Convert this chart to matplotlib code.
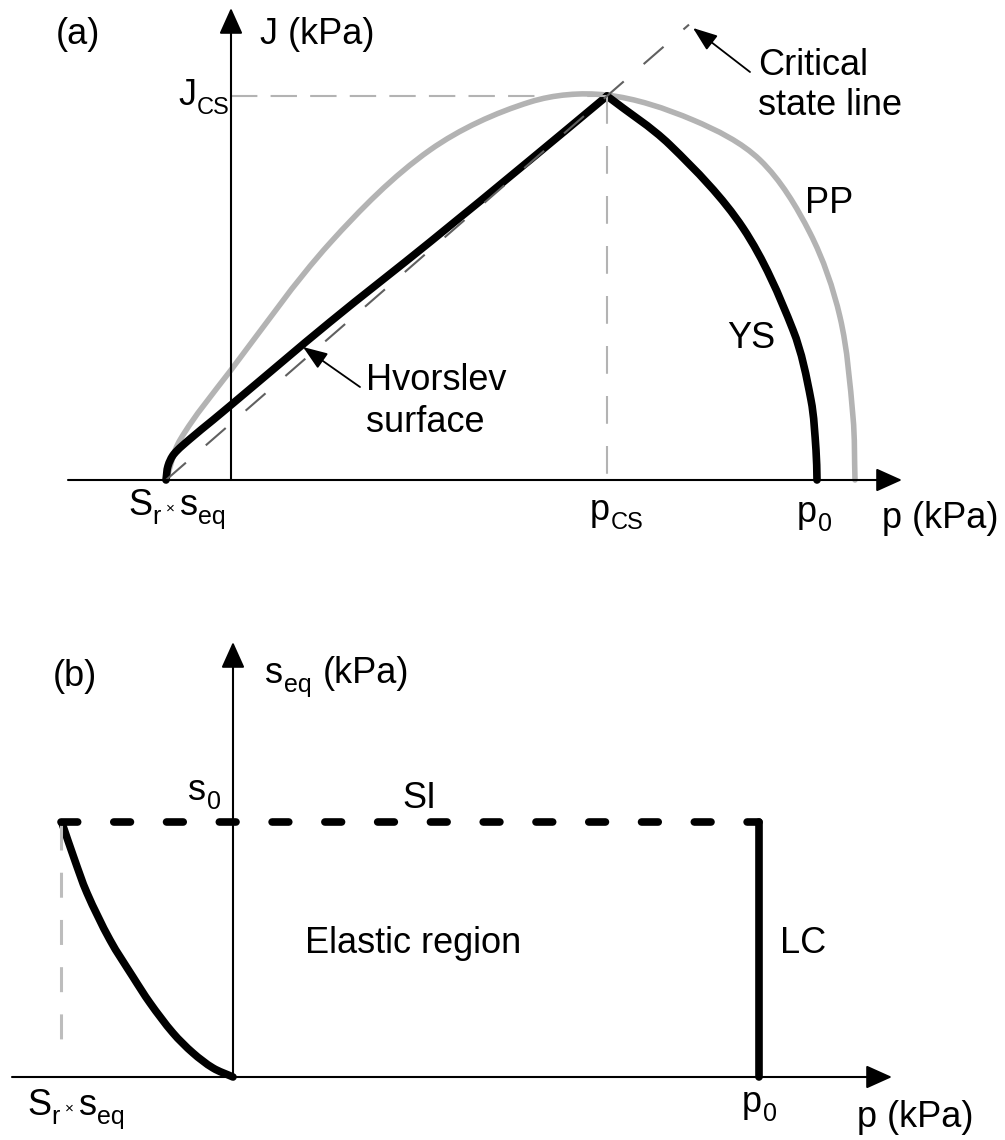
import matplotlib
matplotlib.use("Agg")
import matplotlib.pyplot as plt
import numpy as np
from matplotlib.path import Path
from matplotlib.patches import PathPatch

plt.rcParams['font.family'] = ['Liberation Sans', 'DejaVu Sans']
plt.rcParams['lines.scale_dashes'] = False

# ---- panel (a): p - J plane ----
sr_seq_a = -65
p_cs, J_cs = 376, 384
p0_a = 586
p_axis_a = (-163, 671)
J_axis_top = 472
csl_end_p = 458

hv_p = [-65, -63, -57, -41, -18, 0, 99, 199, 299, 376]
hv_J = [0, 14, 26, 41, 60, 75, 158, 238, 320, 384]

ys_p = [376, 439, 512, 562, 580, 585, 586]
ys_J = [384, 335, 252, 150, 80, 30, 0]

pp_p = [-65, -51, 0, 99, 199, 299, 375, 462, 529, 579, 609, 622, 624]
pp_J = [0, 40, 110, 237, 330, 378, 385, 360, 320, 247, 163, 63, 0]

# ---- panel (b): p - s_eq plane ----
sr_seq_b = -172
s0 = 255
p0_b = 526
p_axis_b = (-221, 659)
s_axis_top = 435

si_curve_p = [-171, -159, -146, -123, -100, -83, -60, -40, -20, 0]
si_curve_s = [254, 219, 184, 137, 100, 74, 44, 24, 9, 0]

BLACK_LW = 5.5
GREY = '#b3b3b3'
FS = 26
SUB = 18
DESC = 0.21 * FS   # descent of the main font, in points


def smooth(px, py):
    # cubic Bezier path through the points, tangents from chord-length spacing
    pts = np.column_stack([px, py]).astype(float)
    d = np.hypot(*np.diff(pts, axis=0).T)
    t = np.concatenate([[0], np.cumsum(d)])
    m = np.zeros_like(pts)
    m[0] = (pts[1] - pts[0]) / d[0]
    m[-1] = (pts[-1] - pts[-2]) / d[-1]
    for i in range(1, len(pts) - 1):
        m[i] = (pts[i + 1] - pts[i - 1]) / (t[i + 1] - t[i - 1])
    verts, codes = [pts[0]], [Path.MOVETO]
    for i in range(len(pts) - 1):
        h = d[i]
        verts += [pts[i] + m[i] * h / 3, pts[i + 1] - m[i + 1] * h / 3, pts[i + 1]]
        codes += [Path.CURVE4] * 3
    return Path(verts, codes)


def curve(ax, px, py, color, lw):
    ax.add_patch(PathPatch(smooth(px, py), fill=False, edgecolor=color, lw=lw,
                           capstyle='round', joinstyle='round'))


fig = plt.figure(figsize=(10.05, 11.4), dpi=100)
ax_a = fig.add_axes([0, 580 / 1140, 1, 560 / 1140])
ax_b = fig.add_axes([0, 0, 1, 560 / 1140])
ax_a.set_xlim(-231, 774)
ax_a.set_ylim(-80, 480)
ax_b.set_xlim(-233, 772)
ax_b.set_ylim(-63, 497)
for ax in (ax_a, ax_b):
    ax.axis('off')

axis_arrow = dict(arrowstyle='-|>,head_length=0.8,head_width=0.36', mutation_scale=20,
                  lw=1.5, color='k', shrinkA=0, shrinkB=0)
pointer = dict(arrowstyle='-|>,head_length=0.75,head_width=0.28', mutation_scale=20,
               lw=1.3, color='k', shrinkA=0, shrinkB=0)


def after(ax, prev, base, s, size, dx, dy):
    # text placed right of `prev`, vertically relative to the bottom of `base`
    return ax.annotate(s, xy=(1, 0), xycoords=(prev, base), xytext=(dx, dy),
                       textcoords='offset points', fontsize=size, va='baseline',
                       ha='left', annotation_clip=False)


def sub_label(ax, x, y, main, sub, subsize=SUB):
    t = ax.text(x, y, main, fontsize=FS, va='baseline', ha='left')
    s = after(ax, t, t, sub, subsize, 0.5, DESC - 6.5)
    return t, s


def srseq_label(ax, x, y):
    t, r = sub_label(ax, x, y, 'S', 'r')
    x_sign = after(ax, r, t, '×', 11, 3.5, DESC + 2)
    t2 = after(ax, x_sign, t, 's', FS, 3.5, DESC)
    after(ax, t2, t, 'eq', SUB, 0.5, DESC - 6.5)


# panel (a)
ax_a.annotate('', xy=(p_axis_a[1], 0), xytext=(p_axis_a[0], 0), arrowprops=axis_arrow)
ax_a.annotate('', xy=(0, J_axis_top), xytext=(0, 0), arrowprops=axis_arrow)

ax_a.plot([0, p_cs], [J_cs, J_cs], color=GREY, lw=1.5, dashes=(19, 9.5))
ax_a.plot([p_cs, p_cs], [J_cs, 0], color=GREY, lw=1.5, dashes=(20, 16))
csl_J = J_cs / (p_cs - sr_seq_a) * (csl_end_p - sr_seq_a)
ax_a.plot([sr_seq_a, csl_end_p], [0, csl_J], color='#606060', lw=1.5, dashes=(19, 19))

curve(ax_a, pp_p, pp_J, GREY, 4.0)
curve(ax_a, hv_p, hv_J, 'k', BLACK_LW)
curve(ax_a, ys_p, ys_J, 'k', BLACK_LW)

ax_a.annotate('', xy=(462, 452), xytext=(519, 408), arrowprops=pointer)
ax_a.annotate('', xy=(72, 133), xytext=(129, 93), arrowprops=pointer)

ax_a.text(-153, 446, '(a)', fontsize=FS, ha='center', va='center')
ax_a.text(29, 445, 'J (kPa)', fontsize=FS, ha='left', va='center')
sub_label(ax_a, -53, 375, 'J', 'CS', 17)
ax_a.text(527, 405, 'Critical', fontsize=FS, va='baseline')
ax_a.text(527, 365, 'state line', fontsize=FS, va='baseline')
ax_a.text(135, 90, 'Hvorslev', fontsize=FS, va='baseline')
ax_a.text(135, 48, 'surface', fontsize=FS, va='baseline')
ax_a.text(574, 267, 'PP', fontsize=FS, va='baseline')
ax_a.text(496, 132, 'YS', fontsize=FS, va='baseline')
srseq_label(ax_a, -103, -35)
sub_label(ax_a, 359, -40, 'p', 'CS', 17)
sub_label(ax_a, 566, -42, 'p', '0')
ax_a.text(651, -48, 'p (kPa)', fontsize=FS, va='baseline')

# panel (b)
ax_b.annotate('', xy=(p_axis_b[1], 0), xytext=(p_axis_b[0], 0), arrowprops=axis_arrow)
ax_b.annotate('', xy=(0, s_axis_top), xytext=(0, 0), arrowprops=axis_arrow)

ax_b.plot([sr_seq_b, sr_seq_b], [s0 - 3, 17], color='#bdbdbd', lw=2.2, dashes=(18, 16))
ax_b.plot([sr_seq_b, p0_b], [s0, s0], color='k', lw=BLACK_LW, dashes=(12, 26),
          dash_capstyle='round')
ax_b.plot([p0_b, p0_b], [s0, 0], color='k', lw=BLACK_LW, solid_capstyle='round')
curve(ax_b, si_curve_p, si_curve_s, 'k', BLACK_LW)

ax_b.text(-158, 401, '(b)', fontsize=FS, ha='center', va='center')
t_s, t_eq = sub_label(ax_b, 32, 394, 's', 'eq')
after(ax_b, t_eq, t_s, '(kPa)', FS, 8, DESC)
sub_label(ax_b, -45, 277, 's', '0')
ax_b.text(169, 269, 'SI', fontsize=FS, va='baseline')
ax_b.text(72, 124, 'Elastic region', fontsize=FS, va='baseline')
ax_b.text(547, 124, 'LC', fontsize=FS, va='baseline')
srseq_label(ax_b, -206, -38)
sub_label(ax_b, 509, -35, 'p', '0')
ax_b.text(624, -50, 'p (kPa)', fontsize=FS, va='baseline')

fig.savefig('out.png', dpi=100)
